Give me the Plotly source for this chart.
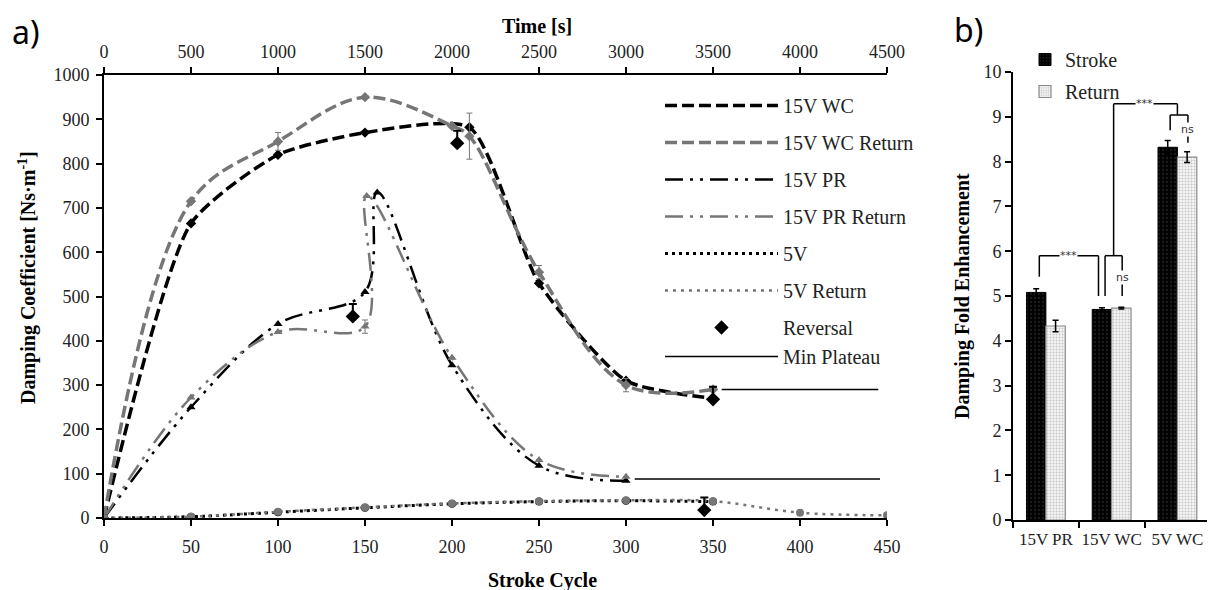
import plotly.graph_objects as go

OFF = 8  # the page body margin shifts the figure by this many pixels
W, H = 1215 - 2 * OFF, 590 - OFF
SERIF = "Liberation Serif"
GRAY = "#767676"

# ---- panel a data ----
cycle_wc = [0, 50, 100, 150, 210, 250, 300, 350]
wc_stroke = [0, 665, 820, 870, 882, 530, 310, 270]
wc_stroke_err = [0, 0, 0, 0, 0, 0, 0, 0]

cycle_wc_ret = [0, 50, 100, 150, 200, 210, 250, 300, 350]
wc_return = [0, 715, 850, 950, 885, 862, 555, 300, 290]
wc_return_err = [0, 0, 20, 0, 0, 52, 15, 15, 0]

cycle_pr = [0, 50, 100, 150, 157, 200, 250, 300]
pr_stroke = [0, 250, 438, 510, 735, 345, 118, 84]

cycle_pr_ret = [0, 50, 100, 150, 151, 200, 250, 300]
pr_return = [0, 272, 420, 432, 727, 362, 131, 93]
pr_return_err = [0, 0, 0, 15, 0, 0, 0, 0]

cycle_5v = [0, 50, 100, 150, 200, 250, 300, 350]
v5_stroke = [0, 3, 13, 23, 32, 37, 39, 37]

cycle_5v_ret = [0, 50, 100, 150, 200, 250, 300, 350, 400, 450]
v5_return = [0, 3, 14, 24, 33, 38, 40, 38, 12, 6]

rev_cycle = [143, 203, 345, 350]
rev_value = [455, 846, 18, 268]
rev_arrow = [28, 28, 28, 28]

plateau_level = [290, 88]
plateau_start = [355, 305]
plateau_end = [445, 446]

time_ticks = [0, 4500]

# ---- panel b data ----
groups = ["15V PR", "15V WC", "5V WC"]
fold_stroke = [5.08, 4.70, 8.32]
fold_stroke_err = [0.08, 0.04, 0.15]
fold_return = [4.33, 4.73, 8.10]
fold_return_err = [0.13, 0.02, 0.12]

# significance brackets: line paths in (category index, value) and labels
brackets = [
    [(-0.1, 5.43), (-0.1, 5.9), (0.8, 5.9), (0.8, 5.0)],
    [(0.9, 5.0), (0.9, 5.9), (1.16, 5.9), (1.16, 5.0)],
    [(1.03, 5.9), (1.03, 9.29), (2.0, 9.29), (2.0, 9.04)],
    [(1.89, 8.7), (1.89, 9.04), (2.16, 9.04), (2.16, 8.42)],
]
sig_labels = [("***", 0.35, 5.9), ("ns", 1.16, 5.42), ("***", 1.5, 9.29), ("ns", 2.16, 8.72)]


def px(x):
    return (x - OFF) / W


def py(y):
    return 1 - (y - OFF) / H


series = [
    dict(name="15V WC", x=cycle_wc, y=wc_stroke, err=wc_stroke_err, color="black",
         dash="12px,5px", width=3.5, symbol="diamond", smooth=0.6),
    dict(name="15V WC Return", x=cycle_wc_ret, y=wc_return, err=wc_return_err, color=GRAY,
         dash="12px,5px", width=3.5, symbol="diamond", smooth=1),
    dict(name="15V PR", x=cycle_pr, y=pr_stroke, err=None, color="black",
         dash="18px,7px,3px,7px,3px,7px", width=2.5, symbol="triangle-up", smooth=1),
    dict(name="15V PR Return", x=cycle_pr_ret, y=pr_return, err=pr_return_err, color=GRAY,
         dash="18px,7px,3px,7px,3px,7px", width=2.5, symbol="triangle-up", smooth=1),
    dict(name="5V", x=cycle_5v, y=v5_stroke, err=None, color="black",
         dash="3px,4px", width=3, symbol="circle", smooth=1),
    dict(name="5V Return", x=cycle_5v_ret, y=v5_return, err=None, color=GRAY,
         dash="3px,5px", width=2.5, symbol="circle", smooth=1),
]

fig = go.Figure()

for i, s in enumerate(series):
    err = None
    if s["err"]:
        err = dict(type="data", array=s["err"], visible=True, color=GRAY, thickness=1, width=3)
    fig.add_trace(go.Scatter(
        x=s["x"], y=s["y"], mode="lines+markers", showlegend=False,
        line=dict(color=s["color"], width=s["width"], dash=s["dash"], shape="spline",
                  smoothing=s["smooth"]),
        marker=dict(symbol=s["symbol"], size=8, color=s["color"]),
        error_y=err,
    ))
    # legend entry drawn without markers
    fig.add_trace(go.Scatter(
        x=[None], y=[None], mode="lines", name=s["name"], legendgroup="g%d" % i,
        line=dict(color=s["color"], width=s["width"], dash=s["dash"]),
    ))

fig.add_trace(go.Scatter(
    x=rev_cycle, y=rev_value, mode="markers", name="Reversal", legendgroup="g6",
    marker=dict(symbol="diamond", size=11, color="black"),
    error_y=dict(type="data", array=rev_arrow, arrayminus=[0] * len(rev_arrow),
                 symmetric=False, color="black", thickness=2, width=4),
))

plat_x, plat_y = [], []
for lvl, x0, x1 in zip(plateau_level, plateau_start, plateau_end):
    plat_x += [x0, x1, None]
    plat_y += [lvl, lvl, None]
fig.add_trace(go.Scatter(
    x=plat_x, y=plat_y, mode="lines", name="Min Plateau", legendgroup="g6",
    line=dict(color="black", width=1.5),
))

# invisible trace so the top time axis is drawn
fig.add_trace(go.Scatter(x=time_ticks, y=[None, None], xaxis="x2", showlegend=False,
                         mode="lines"))

# ---- panel b bars ----
fig.add_trace(go.Bar(
    x=groups, y=fold_stroke, name="Stroke", xaxis="x3", yaxis="y2", legend="legend2",
    legendgroup="stroke",
    marker=dict(color="black", line=dict(color="black", width=1),
                pattern=dict(shape=".", fgcolor="#3a3a3a", size=4, solidity=0.25)),
    error_y=dict(type="data", array=fold_stroke_err, color="black", thickness=1.5, width=3),
))
fig.add_trace(go.Bar(
    x=groups, y=fold_return, name="Return", xaxis="x3", yaxis="y2", legend="legend2",
    legendgroup="return",
    marker=dict(color="#f2f2f2", line=dict(color="#8a8a8a", width=1.2),
                pattern=dict(shape=".", fgcolor="#9a9a9a", bgcolor="#f4f4f4", size=3, solidity=0.35)),
    error_y=dict(type="data", array=fold_return_err, color="black", thickness=1.5, width=3),
))

shapes = []
for path in brackets:
    for (xa, ya), (xb, yb) in zip(path[:-1], path[1:]):
        shapes.append(dict(type="line", xref="x3", yref="y2", x0=xa, y0=ya, x1=xb, y1=yb,
                           line=dict(color="black", width=1.5)))

annotations = []
for txt, xv, yv in sig_labels:
    annotations.append(dict(text=txt, x=xv, y=yv, xref="x3", yref="y2", showarrow=False,
                            bgcolor="white", font=dict(family="DejaVu Sans", size=11, color="#333"),
                            borderpad=0))

tick_font = dict(family=SERIF, size=18, color="#222")
title_font = dict(family=SERIF, size=20, color="black")
annotations += [
    dict(text="a)", x=px(26), y=py(32), font=dict(family="Noto Sans", size=32, color="black")),
    dict(text="b)", x=px(968), y=py(30), font=dict(family="Noto Sans", size=32, color="black")),
    dict(text="<b>Time [s]</b>", x=px(537), y=py(26), font=title_font),
    dict(text="<b>Stroke Cycle</b>", x=px(542), y=py(580), font=title_font),
    dict(text="<b>Damping Coefficient [Ns·m<sup>-1</sup>]</b>", x=px(27), y=py(278),
         textangle=-90, font=title_font),
    dict(text="<b>Damping Fold Enhancement</b>", x=px(962), y=py(296), textangle=-90,
         font=title_font),
]
for a in annotations:
    if a.get("xref") is None:
        a.update(xref="paper", yref="paper", showarrow=False, xanchor="center", yanchor="middle")

axis_common = dict(showline=True, linecolor="black", linewidth=2, ticks="outside", ticklen=6,
                   tickwidth=2, tickcolor="black", showgrid=False, zeroline=False,
                   automargin=False)

fig.update_layout(
    width=W, height=H, margin=dict(l=0, r=0, t=0, b=0, autoexpand=False),
    font=dict(family=SERIF, color="#222"),
    plot_bgcolor="white", paper_bgcolor="white",
    xaxis=dict(domain=[px(104), px(887)], range=[0, 450], dtick=50, anchor="y",
               ticklabelstandoff=5, tickfont=tick_font, **axis_common),
    xaxis2=dict(overlaying="x", side="top", anchor="y", range=[0, 4500], dtick=500,
                ticklabelstandoff=2, tickfont=tick_font, **axis_common),
    yaxis=dict(domain=[py(518), py(75)], range=[0, 1000], dtick=100, anchor="x",
               ticklabelstandoff=3, tickfont=tick_font, **axis_common),
    xaxis3=dict(domain=[px(1013), 1.0], range=[-0.5, 2.45], anchor="y2", tickson="boundaries",
                type="category", tickangle=0, ticklabelstandoff=3,
                tickfont=dict(family=SERIF, size=17, color="#222"), **axis_common),
    yaxis2=dict(domain=[py(520), py(72)], range=[0, 10], dtick=1, anchor="x3",
                tickfont=tick_font, **axis_common),
    barmode="group", bargap=0.41, bargroupgap=0,
    legend=dict(x=px(660), y=py(86), xanchor="left", yanchor="top", itemwidth=113,
                traceorder="grouped", tracegroupgap=8, bgcolor="rgba(0,0,0,0)",
                font=dict(family=SERIF, size=20, color="#222")),
    legend2=dict(x=px(1025), y=py(40), xanchor="left", yanchor="top", bgcolor="rgba(0,0,0,0)",
                 traceorder="grouped", tracegroupgap=3,
                 font=dict(family=SERIF, size=20, color="#222")),
    shapes=shapes, annotations=annotations,
)

fig.write_html("out.html")
